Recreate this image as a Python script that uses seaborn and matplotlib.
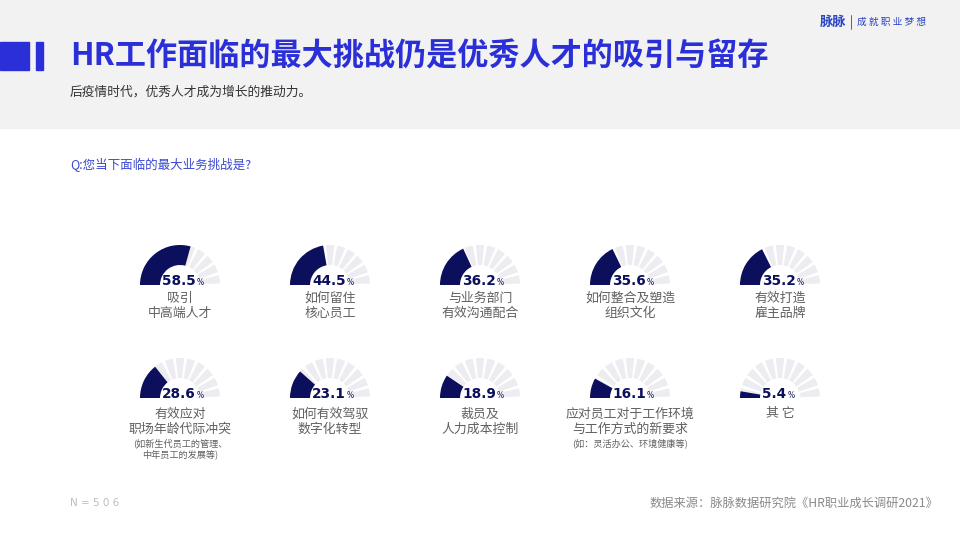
import numpy as np
import seaborn as sns
import matplotlib.pyplot as plt
from matplotlib.patches import Wedge, Rectangle

sns.set_theme(style="white")
plt.rcParams['font.family'] = ['Noto Sans CJK SC', 'DejaVu Sans']

# --- data ---
categories = ["吸引\n中高端人才", "如何留住\n核心员工", "与业务部门\n有效沟通配合",
              "如何整合及塑造\n组织文化", "有效打造\n雇主品牌",
              "有效应对\n职场年龄代际冲突", "如何有效驾驭\n数字化转型", "裁员及\n人力成本控制",
              "应对员工对于工作环境\n与工作方式的新要求", "其 它"]
notes = ["", "", "", "", "",
         "(如新生代员工的管理、\n中年员工的发展等)", "", "",
         "(如：灵活办公、环境健康等)", ""]
values = [58.5, 44.5, 36.2, 35.6, 35.2, 28.6, 23.1, 18.9, 16.1, 5.4]

BLUE = "#2a2fd8"
NAVY = "#0b0f5c"
GRAY_TICK = "#ececf1"
LABEL = "#606060"

fig = plt.figure(figsize=(9.6, 5.4), dpi=100)
ax = fig.add_axes([0, 0, 1, 1])
ax.set_xlim(0, 960)
ax.set_ylim(540, 0)   # pixel coords, y down
ax.axis('off')

# --- header ---
ax.add_patch(Rectangle((0, 0), 960, 128, color="#f2f2f2", zorder=0))
ax.add_patch(Rectangle((0, 42), 29, 28, color=BLUE, zorder=1))
ax.add_patch(Rectangle((36, 42), 7, 28, color=BLUE, zorder=1))
ax.text(70, 56, "HR工作面临的最大挑战仍是优秀人才的吸引与留存", fontsize=22.4, fontweight='bold',
        color=BLUE, va='center', ha='left')
ax.text(70, 92, "后疫情时代，优秀人才成为增长的推动力。", fontsize=9.2, color="#333333",
        va='center', ha='left')

# logo
ax.text(820, 22, "脉脉", fontsize=9.5, fontweight='bold', color="#2b45c4", va='center', ha='left')
ax.plot([851, 851], [15, 29], color="#2b45c4", lw=0.6)
ax.text(857, 22, "成 就 职 业 梦 想", fontsize=7, color="#2b45c4", va='center', ha='left')

ax.text(70, 165, "Q:您当下面临的最大业务挑战是?", fontsize=9, color="#3a48d0", va='center', ha='left')

# --- gauges ---
col_x = [180, 330, 480, 630, 780]
row_base = [285, 398]
r_out, r_in = 40, 20
n_ticks = 11
tick_step = 180 / n_ticks

for i, (cat, note, val) in enumerate(zip(categories, notes, values)):
    cx = col_x[i % 5]
    cy = row_base[i // 5]
    # grey tick segments over the full half circle (angles in y-down space)
    for k in range(n_ticks):
        a0 = 180 + k * tick_step + tick_step * 0.14
        a1 = a0 + tick_step * 0.72
        ax.add_patch(Wedge((cx, cy), r_out, a0, a1, width=r_out - r_in,
                           color=GRAY_TICK, lw=0, zorder=2))
    # filled part for the value
    sweep = 180 * val / 100
    ax.add_patch(Wedge((cx, cy), r_out, 180, 180 + sweep, width=r_out - r_in,
                       color=NAVY, lw=0, zorder=3))
    # value label
    t = ax.text(cx - 18, cy, f"{val:.1f}", fontsize=9.8, fontweight='bold', color=NAVY,
                family='DejaVu Sans', ha='left', va='baseline', zorder=4)
    fig.canvas.draw()
    x_end = t.get_window_extent().x1
    ax.text(x_end + 1, cy, "%", fontsize=5.5, color=NAVY, family='DejaVu Sans',
            ha='left', va='baseline', zorder=4)
    # category labels
    first = cy + (13 if i < 5 else 16)
    for j, line in enumerate(cat.split("\n")):
        ax.text(cx, first + j * 15.5, line, fontsize=9.3, color=LABEL, ha='center', va='center')
    if note:
        for j, line in enumerate(note.split("\n")):
            ax.text(cx, first + 29 + j * 11, line, fontsize=6.6, color=LABEL,
                    ha='center', va='center')

# --- footer ---
ax.text(70, 503, "N = 5 0 6", fontsize=7.5, color="#bdbdbd", va='center', ha='left',
        family='DejaVu Sans')
ax.text(938, 503, "数据来源：脉脉数据研究院《HR职业成长调研2021》", fontsize=8.8, color="#8a8a8a",
        va='center', ha='right')

fig.savefig("out.png", dpi=100)
